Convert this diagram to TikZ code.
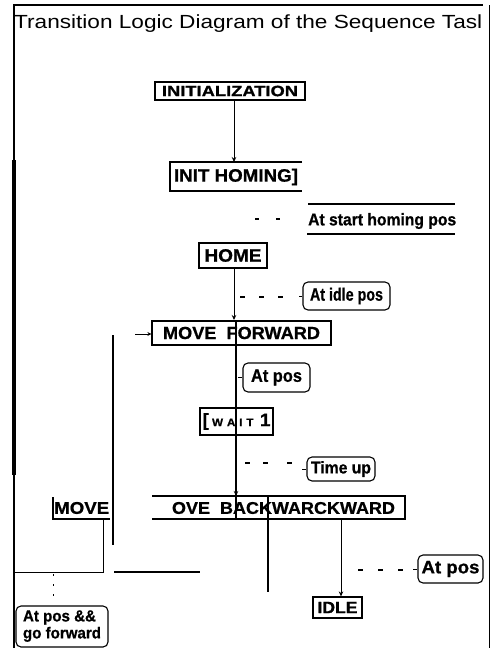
\documentclass[tikz,border=0pt]{standalone}
\usepackage{fontspec}
\setmainfont[BoldFeatures={FakeBold=0.8}]{Liberation Sans}
\usepackage{graphicx}
\usetikzlibrary{arrows.meta}
\newcommand\fitt[3]{\resizebox{#1pt}{\height}{\fontsize{#2}{#2}\selectfont\bfseries #3}}
\newcommand\fitr[3]{\resizebox{#1pt}{\height}{\fontsize{#2}{#2}\selectfont #3}}
\tikzset{
  box/.style={draw, line width=1.2pt, inner sep=0pt},
  cond/.style={draw, line width=1.1pt, rounded corners=5pt, inner sep=0pt},
  wire/.style={line width=1pt},
  arr/.style={line width=1pt, -{Stealth[length=5pt,width=4.5pt]}},
  dsh/.style={line width=1.3pt},
}
\begin{document}
\begin{tikzpicture}[x=1pt,y=-1pt]
\useasboundingbox (0,0) rectangle (493,648);
% frame
\draw[line width=1.8pt] (13,5) -- (483,5);
\draw[line width=1.2pt] (14,5) -- (14,648);
\draw[line width=3.2pt] (14,160) -- (14,475);
\draw[line width=1pt] (489,5) -- (489,648);
% title
\node[anchor=base west, inner sep=0pt] (title) at (14,28) {\fitr{468}{19}{Transition Logic Diagram of the Sequence Tasl}};
% INITIALIZATION
\node[box, minimum width=150pt, minimum height=18pt] (init) at (230,91) {\fitt{136}{15}{INITIALIZATION}};
% INIT HOMING (partial box)
\coordinate (ihtop) at (234,162);
\draw[line width=1.2pt] (302,162) -- (170,162) -- (170,191) -- (302,191);
\node[inner sep=0pt] (ih) at (236,177) {\fitt{124}{18}{INIT HOMING]}};
\draw[arr] (init.south -| ihtop) -- (ihtop);
% At start homing pos
\draw[line width=1.2pt] (308,204) -- (455,204);
\node[anchor=west, inner sep=0pt] (ash) at (308,221) {\fitt{148}{17}{At start homing pos}};
\draw[line width=1.2pt] (307,234) -- (455,234);
\draw[dsh] (255,219) -- (259,219) (276,219) -- (280,219);
% HOME
\node[box, minimum width=68pt, minimum height=25pt] (home) at (233,255.5) {\fitt{57}{18}{HOME}};
\coordinate (mftop) at (234,320);
\draw[arr] (home.south -| mftop) -- (mftop);
% At idle pos
\draw[dsh] (240,297) -- (245,297) (259,297) -- (264,297) (278,297) -- (283,297);
\node[cond, minimum width=87pt, minimum height=28pt] (aip) at (346.5,296) {\fitt{73}{18}{At idle pos}};
\draw[wire] (299,296) -- (aip.west);
% MOVE FORWARD
\node[box, minimum width=179pt, minimum height=24pt] (mf) at (241.5,333) {\fitt{157}{17.5}{MOVE\ \ FORWARD}};
\coordinate (mfin) at (135,334);
\draw[line width=0.9pt, -{Stealth[length=4pt,width=4pt]}] (mfin) -- (mf.west |- mfin);
\draw[line width=1.3pt] (113,335) -- (113,545);
% main vertical through the chain
\coordinate (vtop) at (236,320);
\coordinate (vbot) at (236,519);
\draw[line width=1.3pt] (vtop) -- (vbot);
% At pos (middle)
\node[cond, minimum width=67pt, minimum height=29pt] (ap1) at (276.5,377.5) {\fitt{51}{18}{At pos}};
\draw[wire] (238,377.5) -- (ap1.west);
% WAIT 1
\node[box, minimum width=73pt, minimum height=27pt] (wait) at (236.5,421.5) {\resizebox{68pt}{\height}{\fontsize{18}{18}\selectfont\bfseries [\,{\fontsize{11}{11}\selectfont W\,\,A\,\,I\,\,T}\,\,1}};
% Time up
\draw[dsh] (245,463) -- (250,463) (263,463) -- (268,463) (287,463) -- (292,463);
\node[cond, minimum width=68pt, minimum height=24pt] (tu) at (341,469) {\fitt{60}{17}{Time up}};
\draw[wire] (302,469) -- (tu.west);
% MOVE BACKWARD (partial box)
\coordinate (mbtop) at (236,496);
\draw[arr] (wait.south -| mbtop) -- (mbtop);
\draw[line width=1.2pt] (152,496) -- (405,496) -- (405,519) -- (152,519);
\node[inner sep=0pt] (mb) at (283.5,508) {\fitt{223}{17}{OVE\ \ BACKWARCKWARD}};
\draw[line width=1.3pt] (268,496) -- (268,592);
% IDLE
\node[box, minimum width=49pt, minimum height=21pt] (idle) at (337.5,607.5) {\fitt{40}{16.5}{IDLE}};
\coordinate (mbout) at (341,519);
\draw[arr] (mbout) -- (idle.north -| mbout);
% At pos (right)
\draw[dsh] (358,570) -- (363,570) (378,570) -- (383,570) (398,570) -- (403,570);
\node[cond, minimum width=65pt, minimum height=28pt] (ap2) at (450.5,569) {\fitt{58}{18}{At pos}};
\draw[wire] (413,569) -- (ap2.west);
% MOVE (left partial box)
\draw[line width=1.2pt] (53,497) -- (53,519) -- (110,519);
\node[anchor=west, inner sep=0pt] (mv) at (54,508) {\fitt{55}{17}{MOVE}};
\draw[wire] (103,519) -- (103,572) -- (14,572);
\draw[line width=1.3pt] (114,572) -- (200,572);
\draw[line width=0.8pt, dash pattern=on 2pt off 8pt] (53,574) -- (53,603);
% At pos && go forward
\node[cond, minimum width=92pt, minimum height=41pt] (apgf) at (62,626.5) {\resizebox{78pt}{\height}{\fontsize{16}{17}\selectfont\bfseries\begin{tabular}{@{}l@{}}At pos \&\&\\go forward\end{tabular}}};
\end{tikzpicture}
\end{document}
